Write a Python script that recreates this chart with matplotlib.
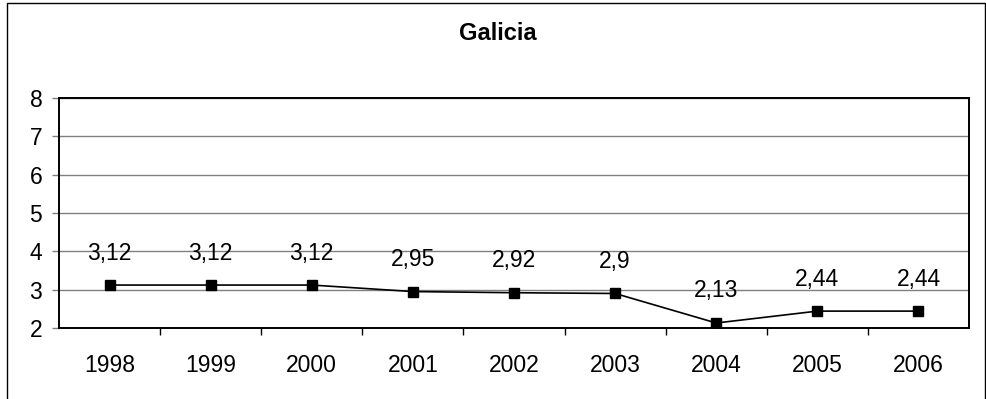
import matplotlib.pyplot as plt
from matplotlib.patches import Rectangle

plt.rcParams['font.family'] = ['Liberation Sans', 'DejaVu Sans']

years = ['1998', '1999', '2000', '2001', '2002', '2003', '2004', '2005', '2006']
values = [3.12, 3.12, 3.12, 2.95, 2.92, 2.9, 2.13, 2.44, 2.44]

fig = plt.figure(figsize=(9.86, 3.99), dpi=100)
ax = fig.add_axes([0.0598, 0.178, 0.923, 0.5764])

x = list(range(len(years)))
ax.plot(x, values, color='black', lw=1.2, marker='s', ms=6.5, zorder=3)

# value labels above each point, decimal comma
for xi, v in zip(x, values):
    txt = ('%g' % v).replace('.', ',')
    ax.annotate(txt, (xi, v), xytext=(0, 32), textcoords='offset pixels',
                ha='center', va='center', fontsize=16.5)

ax.set_xlim(-0.5, len(years) - 0.5)
ax.set_ylim(2, 8)
ax.set_yticks(range(2, 9))
ax.yaxis.grid(True, color='#808080', lw=1.0)
ax.set_axisbelow(True)

ax.set_xticks(x)
ax.set_xticklabels(years)
ax.set_xticks([i + 0.5 for i in range(len(years) - 1)], minor=True)
ax.tick_params(axis='x', which='major', length=0, pad=18.5, labelsize=16.5)
ax.tick_params(axis='x', which='minor', length=5, width=1.0, color='black')
ax.tick_params(axis='y', length=5, width=1.0, color='#808080', pad=7, labelsize=16.5)

for s in ax.spines.values():
    s.set_linewidth(1.4)
    s.set_color('black')

fig.text(0.505, 0.917, 'Galicia', ha='center', va='center',
         fontsize=17, fontweight='bold')

# frame around the whole chart
fig.patches.append(Rectangle((0.0071, -0.02), 0.9919, 1.0125,
                             transform=fig.transFigure, fill=False,
                             edgecolor='black', lw=1.0))

fig.savefig('out.png', dpi=100)
